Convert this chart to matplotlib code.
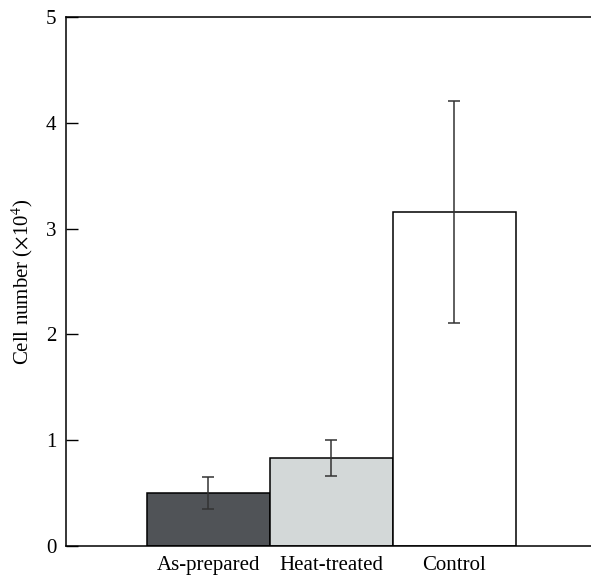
import matplotlib.pyplot as plt

# datos
grupos = ["As-prepared", "Heat-treated", "Control"]
valores = [0.50, 0.83, 3.16]
errores = [0.15, 0.17, 1.05]
colores = ["#505357", "#d3d8d8", "#ffffff"]

plt.rcParams["font.family"] = ["Liberation Serif", "DejaVu Serif"]
plt.rcParams["mathtext.fontset"] = "stix"

fig = plt.figure(figsize=(5.91, 5.78), dpi=100)
ax = fig.add_axes([66 / 591, 32 / 578, 1 - 66 / 591, 529 / 578])

x = range(len(grupos))
ax.bar(x, valores, width=1.0, color=colores, edgecolor="black", linewidth=1.1)
ax.errorbar(x, valores, yerr=errores, fmt="none", ecolor="#333333",
            elinewidth=1.1, capsize=4, capthick=1.1)

ax.set_xlim(-1.155, 3.11)
ax.set_ylim(0, 5)
ax.set_yticks([0, 1, 2, 3, 4, 5])
ax.set_xticks(list(x))
ax.set_xticklabels(grupos)
ax.tick_params(axis="y", direction="in", length=8.5, width=1, labelsize=15, pad=7)
ax.tick_params(axis="x", length=0, labelsize=15, pad=7)
ax.spines["right"].set_visible(False)
for s in ["left", "top", "bottom"]:
    ax.spines[s].set_linewidth(1.1)

ax.set_ylabel("Cell number ($\\times$10$^4$)", fontsize=15, labelpad=8)

plt.savefig("out.png")
plt.close()
